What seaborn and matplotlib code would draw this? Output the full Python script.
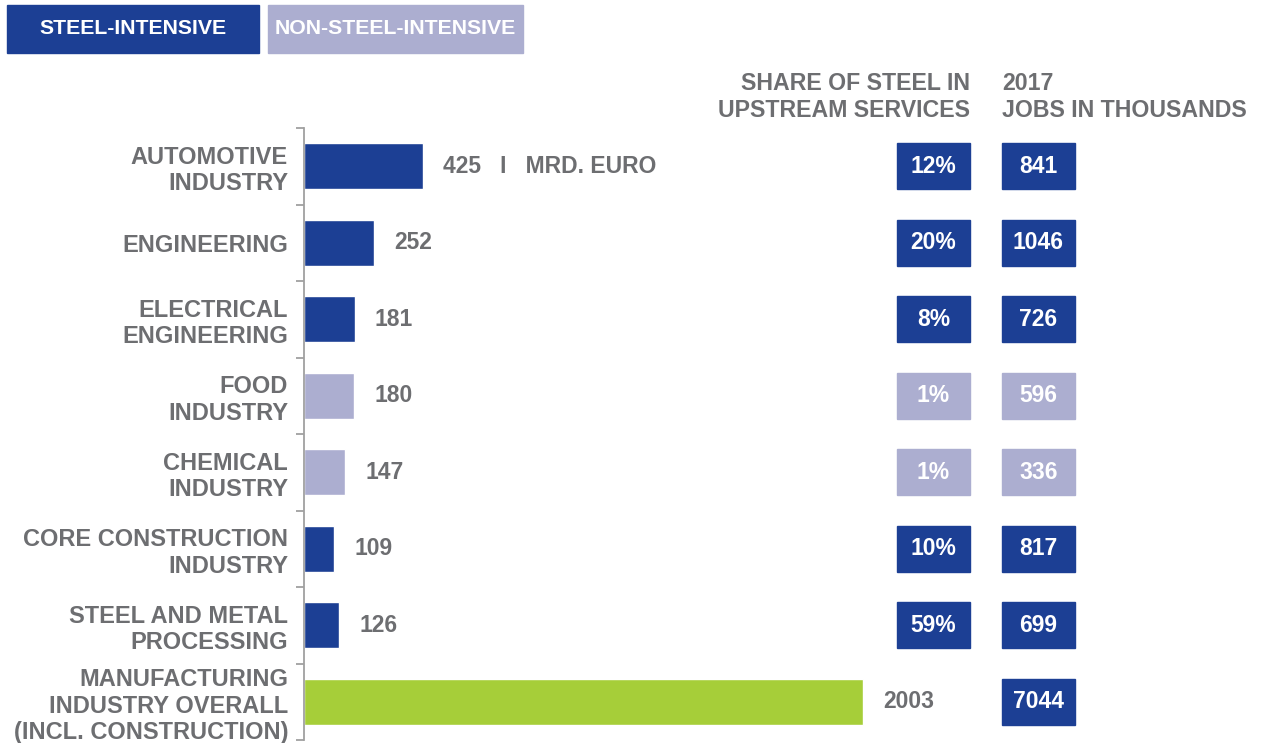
import numpy as np
import pandas as pd
import matplotlib
matplotlib.use("Agg")
import matplotlib.pyplot as plt
import matplotlib.transforms as mtransforms
from matplotlib.patches import Rectangle
from matplotlib.ticker import FixedLocator
import seaborn as sns

# data
categories = [
    "AUTOMOTIVE\nINDUSTRY",
    "ENGINEERING",
    "ELECTRICAL\nENGINEERING",
    "FOOD\nINDUSTRY",
    "CHEMICAL\nINDUSTRY",
    "CORE CONSTRUCTION\nINDUSTRY",
    "STEEL AND METAL\nPROCESSING",
    "MANUFACTURING\nINDUSTRY OVERALL\n(INCL. CONSTRUCTION)",
]
values = [425, 252, 181, 180, 147, 109, 126, 2003]
groups = ["steel", "steel", "steel", "non", "non", "steel", "steel", "total"]
value_labels = ["425   I   MRD. EURO", "252", "181", "180", "147", "109", "126", "2003"]
shares = ["12%", "20%", "8%", "1%", "1%", "10%", "59%", None]
jobs = [841, 1046, 726, 596, 336, 817, 699, 7044]

DARK = "#1c3f94"
LIGHT = "#acaed0"
GREEN = "#a6ce39"
GRAY = "#6d6e71"
palette = {"steel": DARK, "non": LIGHT, "total": GREEN}
job_colors = {"steel": DARK, "non": LIGHT, "total": DARK}

sns.set_style("white")
plt.rcParams["font.family"] = ["Liberation Sans", "DejaVu Sans"]
plt.rcParams["font.weight"] = "bold"

W, H = 1272, 743
fig = plt.figure(figsize=(W / 100, H / 100), dpi=100)
ax = fig.add_axes([304 / W, 3 / H, (W - 304) / W, 612 / H])

df = pd.DataFrame({"cat": categories, "val": values, "grp": groups})
sns.barplot(data=df, x="val", y="cat", hue="grp", palette=palette, dodge=False,
            width=0.6, legend=False, ax=ax, saturation=1)

ax.set_xlim(0, 2003 * (W - 304) / 559)
ax.set_ylim(len(categories) - 0.5, -0.5)
ax.set_xlabel("")
ax.set_ylabel("")
ax.set_xticks([])
for s in ["top", "right", "bottom"]:
    ax.spines[s].set_visible(False)
ax.spines["left"].set_color("#a0a0a0")
ax.spines["left"].set_linewidth(1.3)

ax.yaxis.set_minor_locator(FixedLocator(np.arange(-0.5, len(categories), 1.0)))
ax.tick_params(axis="y", which="major", left=False, length=0, pad=11.5,
               labelsize=17, labelcolor=GRAY)
ax.tick_params(axis="y", which="minor", left=True, length=6, width=1.3,
               color="#a0a0a0", direction="out")
for lab in ax.get_yticklabels():
    lab.set_fontweight("bold")
    lab.set_linespacing(1.2)
    lab.set_multialignment("right")

# value labels next to bars
for i, (v, lab) in enumerate(zip(values, value_labels)):
    ax.annotate(lab, xy=(v, i), xytext=(14.5, 0), textcoords="offset points",
                va="center", ha="left", fontsize=16.5, color=GRAY, fontweight="bold")

# side columns: share of steel and jobs
blend = mtransforms.blended_transform_factory(fig.transFigure, ax.transData)
share_x, job_x, box_w = 897, 1002, 73
for i, (sh, jb, g) in enumerate(zip(shares, jobs, groups)):
    if sh is not None:
        ax.add_patch(Rectangle((share_x / W, i - 0.3), box_w / W, 0.6, transform=blend,
                               color=palette[g], clip_on=False))
        ax.text((share_x + box_w / 2) / W, i, sh, transform=blend, ha="center", va="center",
                color="white", fontsize=16.5, fontweight="bold")
    ax.add_patch(Rectangle((job_x / W, i - 0.3), box_w / W, 0.6, transform=blend,
                           color=job_colors[g], clip_on=False))
    ax.text((job_x + box_w / 2) / W, i, str(jb), transform=blend, ha="center", va="center",
            color="white", fontsize=16.5, fontweight="bold")

# column headers
fig.text(970 / W, 1 - 97 / H, "SHARE OF STEEL IN\nUPSTREAM SERVICES", ha="right", va="center",
         fontsize=16.7, color=GRAY, fontweight="bold", linespacing=1.2)
fig.text(1002 / W, 1 - 97 / H, "2017\nJOBS IN THOUSANDS", ha="left", va="center",
         fontsize=16.7, color=GRAY, fontweight="bold", linespacing=1.2)

# legend boxes
legend_items = [("STEEL-INTENSIVE", DARK, 7, 252), ("NON-STEEL-INTENSIVE", LIGHT, 268, 255)]
for text, col, x0, w in legend_items:
    fig.patches.append(Rectangle((x0 / W, 1 - 53 / H), w / W, 48 / H, transform=fig.transFigure,
                                 color=col, figure=fig))
    fig.text((x0 + w / 2) / W, 1 - 29 / H, text, ha="center", va="center",
             fontsize=15.3, color="white", fontweight="bold")

fig.savefig("out.png", dpi=100)
